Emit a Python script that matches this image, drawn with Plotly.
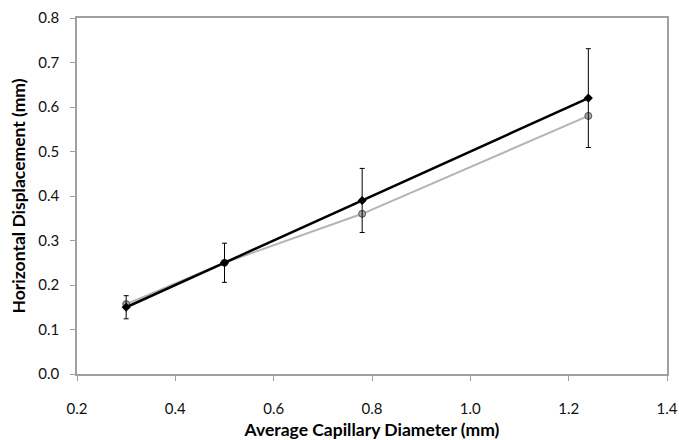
import plotly.graph_objects as go

diameter = [0.3, 0.5, 0.78, 1.24]
disp_black = [0.15, 0.25, 0.39, 0.62]
err_black = [0.026, 0.044, 0.072, 0.111]
disp_gray = [0.157, 0.25, 0.36, 0.58]

x_ticks = [0.2, 0.4, 0.6, 0.8, 1.0, 1.2, 1.4]
y_ticks = [0.0, 0.1, 0.2, 0.3, 0.4, 0.5, 0.6, 0.7, 0.8]

FONT = "Lato, Liberation Sans, sans-serif"

fig = go.Figure()
fig.add_trace(go.Scatter(
    x=diameter, y=disp_gray, mode="lines+markers",
    line=dict(color="#b4b4b4", width=2),
    marker=dict(symbol="circle", size=7, color="#a6a6a6",
                line=dict(color="#555555", width=1)),
    showlegend=False,
))
fig.add_trace(go.Scatter(
    x=diameter, y=disp_black, mode="lines+markers",
    line=dict(color="#000000", width=2.5),
    marker=dict(symbol="diamond", size=7, color="#000000"),
    error_y=dict(type="data", array=err_black, visible=True,
                 color="#000000", thickness=1, width=2.5),
    showlegend=False,
))

axis_common = dict(
    showgrid=False, zeroline=False, showline=True, linecolor="#a0a0a0",
    linewidth=1.5, mirror=True, ticks="outside", ticklen=5,
    tickcolor="#a0a0a0", automargin=False,
    tickfont=dict(family=FONT, size=15, color="#111111"),
)

fig.update_layout(
    width=679, height=440,
    margin=dict(l=77, r=12, t=18, b=66),
    paper_bgcolor="white", plot_bgcolor="white",
    xaxis=dict(range=[0.2, 1.4], tickvals=x_ticks,
               ticktext=[f"{v:.1f}" for v in x_ticks],
               ticklabelstandoff=15,
               title=dict(text="<b>Average Capillary Diameter (mm)</b>",
                          font=dict(family=FONT, size=17.5, color="#000000"),
                          standoff=9),
               **axis_common),
    yaxis=dict(range=[0.0, 0.8], tickvals=y_ticks,
               ticktext=[f"{v:.1f}" for v in y_ticks],
               ticklabelstandoff=8,
               title=dict(text="<b>Horizontal Displacement (mm)</b>",
                          font=dict(family=FONT, size=17.5, color="#000000"),
                          standoff=8),
               **axis_common),
)

fig.write_html("out.html", config={"displayModeBar": False},
               post_script="document.body.style.margin='0';")
